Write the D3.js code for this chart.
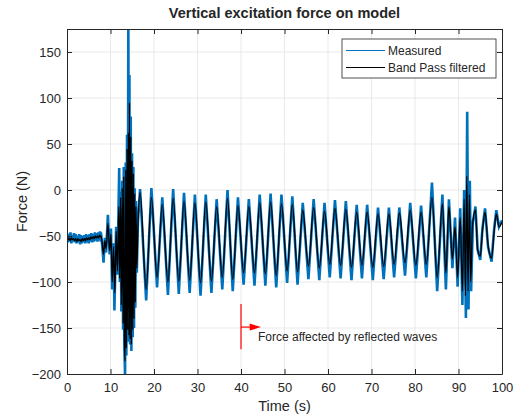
<!DOCTYPE html>
<html>
<head>
<meta charset="utf-8">
<script src="https://cdn.jsdelivr.net/npm/d3@7"></script>
<style>
  body { margin: 0; background: #fff; }
  text { font-family: "Liberation Sans", Arial, Helvetica, sans-serif; fill: #262626; }
</style>
</head>
<body>
<svg id="chart" width="522" height="415"></svg>
<script>
// quiet start (0 - 7.8 s), sampled every quietStep seconds
const quietStepBlue = 0.2;
const quietBlue = [-47,-57,-48,-56,-46,-58,-49,-56,-47,-57,-48,-58,-50,-57,-48,-59,-49,-58,-50,-57,
                   -49,-58,-48,-57,-49,-58,-48,-56,-47,-57,-48,-56,-46,-55,-47,-56,-46,-55,-45,-56];
const quietStepBlack = 0.25;
const quietBlack = [-51,-54,-52,-55,-52,-54,-53,-55,-53,-56,-53,-55,-54,-56,-53,-55,
                    -53,-55,-52,-54,-52,-54,-51,-53,-51,-53,-50,-52,-50,-52,-49,-51];

// wave arrival and burst (7.8 - 16.3 s), [time, force]
const burstBlue = [[7.8,-46],[8.1,-60],[8.4,-79],[8.7,-52],[9.0,-68],[9.4,-27],[9.8,-70],[10.1,-42],
  [10.4,-108],[10.7,-58],[10.9,-131],[11.3,-40],[11.6,-92],[12.0,24],[12.15,-100],[12.3,-2],[12.5,-132],
  [12.7,10],[12.9,-152],[13.05,25],[13.2,-172],[13.35,-202],[13.5,30],[13.65,-180],[13.8,60],[13.95,-160],
  [14.1,185],[14.25,-165],[14.35,125],[14.5,-168],[14.65,80],[14.8,-175],[14.95,40],[15.1,-160],[15.25,25],
  [15.4,-150],[15.55,2],[15.7,-128],[15.85,-12],[16.05,-90],[16.3,-35]];
const burstBlack = [[7.8,-50],[8.1,-58],[8.4,-70],[8.7,-55],[9.0,-64],[9.4,-36],[9.8,-66],[10.1,-48],
  [10.4,-100],[10.7,-62],[11.0,-112],[11.3,-45],[11.6,-88],[11.9,-18],[12.1,-96],[12.3,-8],[12.5,-125],
  [12.7,2],[12.9,-145],[13.05,14],[13.2,-165],[13.35,-186],[13.5,22],[13.65,-172],[13.8,45],[13.95,-152],
  [14.1,62],[14.25,-158],[14.35,95],[14.5,-162],[14.65,58],[14.8,-168],[14.95,32],[15.1,-152],[15.25,18],
  [15.4,-140],[15.55,-4],[15.7,-122],[15.85,-18],[16.05,-85],[16.3,-40]];

// regular oscillation: crest and trough times (s) and values (N)
const peakTimes   = [16.8,19.4,21.9,24.4,26.9,29.4,31.9,34.4,36.9,39.3,41.8,44.3,46.8,49.3,
                     51.8,54.2,56.7,59.2,61.6,64.1,66.6,69.0,71.5,74.0,76.4,78.9,81.4,83.9];
const troughTimes = [18.2,20.7,23.2,25.7,28.2,30.7,33.2,35.7,38.1,40.6,43.1,45.6,48.1,50.6,
                     53.0,55.5,58.0,60.4,62.9,65.4,67.8,70.3,72.8,75.2,77.7,80.2,82.6,85.1];
const bluePeaks    = [1,2,-8,1,-3,-5,-5,-10,0,-8,-10,-5,-4,-5,-7,-14,-10,-14,-11,-12,-16,-16,-19,-19,-19,-14,-17,8];
const blueTroughs  = [-120,-106,-114,-113,-112,-115,-112,-108,-110,-103,-104,-104,-106,-101,
                      -103,-97,-98,-95,-96,-98,-96,-98,-97,-95,-93,-96,-95,-110];
const blackPeaks   = [-3,-8,-16,-9,-12,-14,-13,-18,-9,-17,-18,-14,-13,-15,-16,-22,-19,-23,-20,-21,-24,-24,-26,-26,-25,-22,-24,-8];
const blackTroughs = [-108,-95,-100,-99,-98,-101,-99,-95,-97,-90,-90,-91,-93,-88,
                      -89,-83,-85,-81,-82,-84,-82,-84,-83,-81,-79,-82,-81,-95];

// reflected waves at the end (86.3 - 100 s)
const endBlue = [[86.3,-5],[87.1,-108],[87.8,-10],[88.6,-85],[89.2,-30],[89.8,-105],[90.4,-20],[90.9,-125],
  [91.3,0],[91.7,-139],[92.0,85],[92.3,-130],[92.6,10],[92.9,-110],[93.3,-35],[93.9,-18],[94.4,-65],
  [95.0,-76],[95.5,-42],[96.1,-20],[96.8,-62],[97.6,-78],[98.2,-42],[98.7,-22],[99.3,-40],[100,-33]];
const endBlack = [[86.3,-15],[87.1,-90],[87.8,-18],[88.6,-75],[89.2,-40],[89.8,-95],[90.4,-30],[90.9,-110],
  [91.3,-10],[91.6,-115],[91.9,15],[92.2,-110],[92.5,-5],[92.8,-100],[93.2,-40],[93.9,-22],[94.4,-65],
  [95.0,-72],[95.5,-45],[96.1,-24],[96.8,-60],[97.6,-74],[98.2,-45],[98.7,-26],[99.3,-40],[100,-35]];

const xTicks = d3.range(0, 101, 10);
const yTicks = d3.range(-200, 151, 50);
const seriesNames = ["Measured", "Band Pass filtered"];
const seriesColors = ["#0072BD", "#000000"];
const annotationText = "Force affected by reflected waves";

const regular = (peaks, troughs) => peakTimes.flatMap((t, i) => [[t, peaks[i]], [troughTimes[i], troughs[i]]]);

const blueData = quietBlue.map((v, i) => [i * quietStepBlue, v])
  .concat(burstBlue, regular(bluePeaks, blueTroughs), endBlue);
const blackData = quietBlack.map((v, i) => [i * quietStepBlack, v])
  .concat(burstBlack, regular(blackPeaks, blackTroughs), endBlack);

const svg = d3.select('#chart');
const margin = {top: 29, right: 20, bottom: 41, left: 67};
const W = 522, H = 415;

const x = d3.scaleLinear().domain([0, 100]).range([margin.left, W - margin.right]);
const y = d3.scaleLinear().domain([-200, 175]).range([H - margin.bottom, margin.top]);

svg.append('defs').append('clipPath').attr('id', 'plotclip')
  .append('rect')
  .attr('x', x(0)).attr('y', y(175))
  .attr('width', x(100) - x(0)).attr('height', y(-200) - y(175));

// grid
const grid = svg.append('g').attr('stroke', '#e3e3e3').attr('stroke-width', 0.8);
grid.selectAll('.gx').data(xTicks.slice(1, -1)).join('line')
  .attr('x1', d => x(d)).attr('x2', d => x(d))
  .attr('y1', y(-200)).attr('y2', y(175));
grid.selectAll('.gy').data(yTicks.slice(1)).join('line')
  .attr('x1', x(0)).attr('x2', x(100))
  .attr('y1', d => y(d)).attr('y2', d => y(d));

// signals: measured is jagged, filtered is smooth
const blueLine = d3.line().x(d => x(d[0])).y(d => y(d[1]));
const blackLine = d3.line().x(d => x(d[0])).y(d => y(d[1])).curve(d3.curveMonotoneX);
const plot = svg.append('g').attr('clip-path', 'url(#plotclip)');
plot.append('path').datum(blueData)
  .attr('fill', 'none').attr('stroke', seriesColors[0]).attr('stroke-width', 2.6)
  .attr('stroke-linejoin', 'miter').attr('stroke-miterlimit', 6).attr('d', blueLine);
plot.append('path').datum(blackData)
  .attr('fill', 'none').attr('stroke', seriesColors[1]).attr('stroke-width', 1.3)
  .attr('stroke-linejoin', 'round').attr('d', blackLine);

// axes with inward ticks on all four sides
const styleAxis = g => {
  g.select('.domain').attr('stroke', '#262626');
  g.selectAll('.tick line').attr('stroke', '#262626');
  g.selectAll('.tick text').attr('fill', '#262626')
    .style('font-family', '"Liberation Sans", Arial, sans-serif').style('font-size', '13px');
};
svg.append('g').attr('transform', `translate(0,${y(-200)})`)
  .call(d3.axisBottom(x).tickValues(xTicks).tickSize(-5).tickSizeOuter(0).tickPadding(9))
  .call(styleAxis);
svg.append('g').attr('transform', `translate(0,${y(175)})`)
  .call(d3.axisTop(x).tickValues(xTicks).tickSize(-5).tickSizeOuter(0).tickFormat(''))
  .call(styleAxis);
svg.append('g').attr('transform', `translate(${x(0)},0)`)
  .call(d3.axisLeft(y).tickValues(yTicks).tickSize(-5).tickSizeOuter(0).tickPadding(6))
  .call(styleAxis);
svg.append('g').attr('transform', `translate(${x(100)},0)`)
  .call(d3.axisRight(y).tickValues(yTicks).tickSize(-5).tickSizeOuter(0).tickFormat(''))
  .call(styleAxis);

// titles
svg.append('text').attr('x', (x(0) + x(100)) / 2).attr('y', 18)
  .attr('text-anchor', 'middle').style('font-size', '14.5px').style('font-weight', 'bold')
  .text('Vertical excitation force on model');
svg.append('text').attr('x', (x(0) + x(100)) / 2).attr('y', 411)
  .attr('text-anchor', 'middle').style('font-size', '14.5px').text('Time (s)');
svg.append('text')
  .attr('transform', `translate(27,${(y(-200) + y(175)) / 2}) rotate(-90)`)
  .attr('text-anchor', 'middle').style('font-size', '14.5px').text('Force (N)');

// annotation
const red = '#ff0000';
svg.append('line').attr('x1', x(40)).attr('x2', x(40))
  .attr('y1', y(-124)).attr('y2', y(-173)).attr('stroke', red).attr('stroke-width', 1.2);
svg.append('line').attr('x1', x(40)).attr('x2', x(42.2))
  .attr('y1', y(-149)).attr('y2', y(-149)).attr('stroke', red).attr('stroke-width', 1.2);
svg.append('path')
  .attr('d', `M${x(44.6)},${y(-149)} L${x(42)},${y(-149) - 3.5} L${x(42)},${y(-149) + 3.5} Z`)
  .attr('fill', red);
svg.append('text').attr('x', x(43.9)).attr('y', y(-164))
  .style('font-size', '12px').text(annotationText);

// legend
const lg = svg.append('g').attr('transform', 'translate(342,39)');
lg.append('rect').attr('width', 154).attr('height', 39)
  .attr('fill', '#fff').attr('stroke', '#262626').attr('stroke-width', 0.8);
seriesNames.forEach((name, i) => {
  const cy = 11.5 + i * 17;
  lg.append('line').attr('x1', 4).attr('x2', 43).attr('y1', cy).attr('y2', cy)
    .attr('stroke', seriesColors[i]).attr('stroke-width', 1.2);
  lg.append('text').attr('x', 46).attr('y', cy + 4.3).style('font-size', '12px').text(name);
});
</script>
</body>
</html>
